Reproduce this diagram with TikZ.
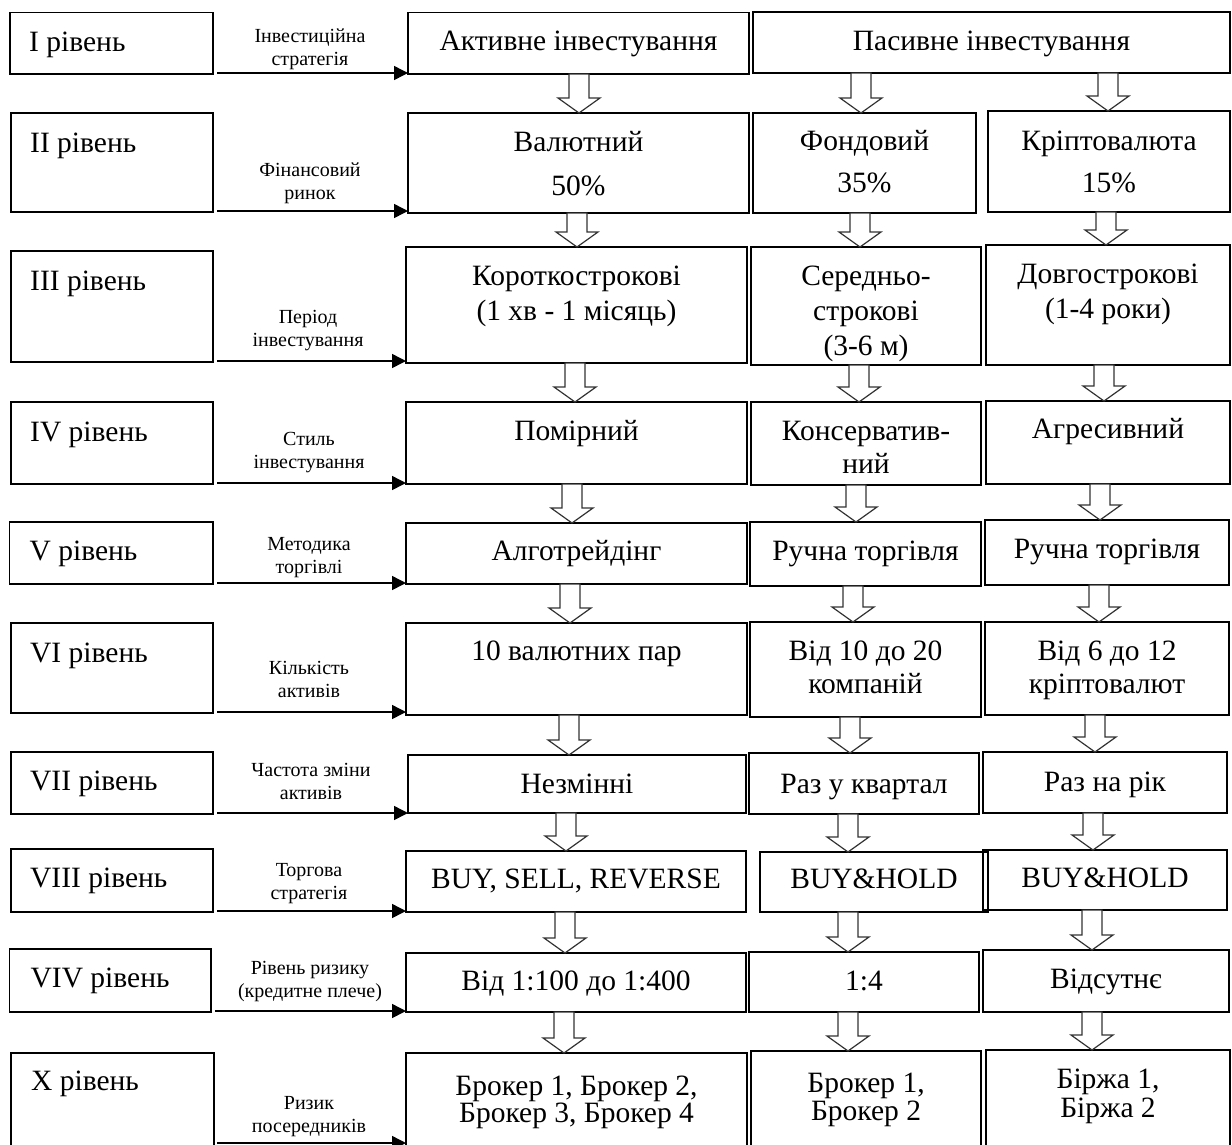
\documentclass[tikz,border=0pt]{standalone}
\usepackage{fontspec}
\setmainfont{Liberation Serif}
\usetikzlibrary{arrows.meta,calc}
\tikzset{
  box/.style={draw=black, line width=1.5pt, inner sep=0pt, outer sep=0pt, rectangle},
  rtext/.style={anchor=base, align=center, inner sep=0pt, font=\fontsize{29.5}{35}\selectfont},
  ltext/.style={anchor=base west, inner sep=0pt, font=\fontsize{29.5}{35}\selectfont},
  lab/.style={anchor=base, align=center, inner sep=0pt, font=\fontsize{20}{23}\selectfont},
  larrow/.style={line width=1.5pt, -{Triangle[length=14pt,width=14pt]}},
  barrow/.style={draw=black!80, line width=1.2pt, fill=white},
}
\newcommand\bx[5]{\node[box, anchor=north west, minimum width={#4pt-#2pt}, minimum height={#5pt-#3pt}] (#1) at (#2,#3) {};}
\newcommand\larr[3]{\coordinate (#1s) at ([xshift=4pt,yshift=1pt]#2.south east); \draw[larrow] (#1s) -- (#1s -| #3.west);}
\newcommand\barr[3]{\draw[barrow] let \p1=(#1.south), \p2=(#2.north) in
  (#3pt-10pt,\y1) -- (#3pt-10pt,\y2+15pt) -- (#3pt-21pt,\y2+15pt) -- (#3pt,\y2)
  -- (#3pt+21pt,\y2+15pt) -- (#3pt+10pt,\y2+15pt) -- (#3pt+10pt,\y1) -- cycle;}
\begin{document}
\begin{tikzpicture}[x=1pt,y=-1pt]
\useasboundingbox (0,0) rectangle (1232,1144);
\fill[white] (0,0) rectangle (1232,1144);
\clip (0,0) rectangle (1232,1144);

% left level boxes
\bx{L1}{10}{12.7}{213}{74}
\bx{L2}{11}{113}{213}{212}
\bx{L3}{11}{251}{213}{362}
\bx{L4}{11}{402}{213}{484}
\bx{L5}{9.5}{522}{213}{584}
\bx{L6}{11}{623}{213}{713}
\bx{L7}{11}{752}{213}{814}
\bx{L8}{11}{849}{213}{912}
\bx{L9}{9.5}{949}{211}{1012}
\bx{L10}{11}{1053}{214}{1150}

\node[ltext] (L1t) at ([xshift=19pt,yshift=-39pt]L1.north west) {I рівень};
\node[ltext] (L2t) at ([xshift=19pt,yshift=-39pt]L2.north west) {II рівень};
\node[ltext] (L3t) at ([xshift=19pt,yshift=-39pt]L3.north west) {III рівень};
\node[ltext] (L4t) at ([xshift=19pt,yshift=-39pt]L4.north west) {IV рівень};
\node[ltext] (L5t) at ([xshift=20pt,yshift=-38pt]L5.north west) {V рівень};
\node[ltext] (L6t) at ([xshift=19pt,yshift=-39pt]L6.north west) {VI рівень};
\node[ltext] (L7t) at ([xshift=19pt,yshift=-38pt]L7.north west) {VII рівень};
\node[ltext] (L8t) at ([xshift=19pt,yshift=-38pt]L8.north west) {VIII рівень};
\node[ltext] (L9t) at ([xshift=21pt,yshift=-38pt]L9.north west) {VIV рівень};
\node[ltext] (L10t) at ([xshift=20pt,yshift=-37pt]L10.north west) {X рівень};

% right boxes
\bx{A1}{408}{12.7}{749}{74}
\bx{P1}{753}{12}{1230}{73}
\bx{B1}{408}{113}{749}{213}
\bx{B2}{753}{113}{976}{213}
\bx{B3}{988}{111}{1230}{212}
\bx{C1}{406}{247}{747}{363}
\bx{C2}{751}{247}{981}{365}
\bx{C3}{986}{245}{1230}{365}
\bx{D1}{406}{402}{747}{484}
\bx{D2}{751}{402}{981}{485}
\bx{D3}{986}{401}{1230}{484}
\bx{E1}{406}{523}{747}{584}
\bx{E2}{750}{522}{981}{586}
\bx{E3}{985}{520}{1229}{585}
\bx{F1}{406}{623}{747}{715}
\bx{F2}{750}{622}{981}{717}
\bx{F3}{985}{622}{1229}{715}
\bx{G1}{408}{755}{746}{813}
\bx{G2}{749}{753}{979}{814}
\bx{G3}{983}{752}{1227}{813}
\bx{H1}{406}{851}{746}{912}
\bx{H2}{760}{852}{988}{912}
\bx{H3}{983}{850}{1227}{910}
\bx{I1}{406}{953}{746}{1012}
\bx{I2}{749}{952}{979}{1012}
\bx{I3}{983}{950}{1229}{1012}
\bx{J1}{406}{1053}{747}{1150}
\bx{J2}{751}{1051}{981}{1150}
\bx{J3}{986}{1050}{1230}{1150}

% texts of right boxes (multi-line nodes: base = last line)
\node[rtext] (A1t) at ([yshift=-38pt]A1.north) {Активне інвестування};
\node[rtext] (P1t) at ([yshift=-38pt]P1.north) {Пасивне інвестування};
\node[rtext, font=\fontsize{29.5}{44}\selectfont] (B1t) at ([yshift=-82pt]B1.north) {Валютний\\50\%};
\node[rtext, font=\fontsize{29.5}{42}\selectfont] (B2t) at ([yshift=-79pt]B2.north) {Фондовий\\35\%};
\node[rtext, font=\fontsize{29.5}{42}\selectfont] (B3t) at ([yshift=-81pt]B3.north) {Кріптовалюта\\15\%};
\node[rtext] (C1t) at ([yshift=-73pt]C1.north) {Короткострокові\\(1 хв - 1 місяць)};
\node[rtext] (C2t) at ([yshift=-108pt]C2.north) {Середньо-\\строкові\\(3-6 м)};
\node[rtext] (C3t) at ([yshift=-73pt]C3.north) {Довгострокові\\(1-4 роки)};
\node[rtext] (D1t) at ([yshift=-38pt]D1.north) {Помірний};
\node[rtext, font=\fontsize{29.5}{33}\selectfont] (D2t) at ([yshift=-71pt]D2.north) {Консерватив-\\ний};
\node[rtext] (D3t) at ([yshift=-37pt]D3.north) {Агресивний};
\node[rtext] (E1t) at ([yshift=-37pt]E1.north) {Алготрейдінг};
\node[rtext] (E2t) at ([yshift=-38pt]E2.north) {Ручна торгівля};
\node[rtext] (E3t) at ([yshift=-38pt]E3.north) {Ручна торгівля};
\node[rtext] (F1t) at ([yshift=-37pt]F1.north) {10 валютних пар};
\node[rtext, font=\fontsize{29.5}{33}\selectfont] (F2t) at ([yshift=-71pt]F2.north) {Від 10 до 20\\компаній};
\node[rtext, font=\fontsize{29.5}{33}\selectfont] (F3t) at ([yshift=-71pt]F3.north) {Від 6 до 12\\кріптовалют};
\node[rtext] (G1t) at ([yshift=-38pt]G1.north) {Незмінні};
\node[rtext] (G2t) at ([yshift=-40pt]G2.north) {Раз у квартал};
\node[rtext] (G3t) at ([yshift=-39pt]G3.north) {Раз на рік};
\node[rtext] (H1t) at ([yshift=-37pt]H1.north) {BUY, SELL, REVERSE};
\node[rtext] (H2t) at ([yshift=-36pt]H2.north) {BUY\&HOLD};
\node[rtext] (H3t) at ([yshift=-37pt]H3.north) {BUY\&HOLD};
\node[rtext] (I1t) at ([yshift=-37pt]I1.north) {Від 1:100 до 1:400};
\node[rtext] (I2t) at ([yshift=-38pt]I2.north) {1:4};
\node[rtext] (I3t) at ([yshift=-38pt]I3.north) {Відсутнє};
\node[rtext, font=\fontsize{29.5}{27}\selectfont] (J1t) at ([yshift=-69pt]J1.north) {Брокер 1, Брокер 2,\\Брокер 3, Брокер 4};
\node[rtext, font=\fontsize{29.5}{28}\selectfont] (J2t) at ([yshift=-69pt]J2.north) {Брокер 1,\\Брокер 2};
\node[rtext, font=\fontsize{29.5}{29}\selectfont] (J3t) at ([yshift=-67pt]J3.north) {Біржа 1,\\Біржа 2};

% left arrows
\larr{a1}{L1}{A1}
\larr{a2}{L2}{B1}
\larr{a3}{L3}{C1}
\larr{a4}{L4}{D1}
\larr{a5}{L5}{E1}
\larr{a6}{L6}{F1}
\larr{a7}{L7}{G1}
\larr{a8}{L8}{H1}
\larr{a9}{L9}{I1}
\coordinate (a10s) at (217,1143);
\draw[larrow] (a10s) -- (a10s -| J1.west);

% labels (anchor base = last line)
\node[lab] (m1) at (310,65) {Інвестиційна\\стратегія};
\node[lab] (m2) at (310,199) {Фінансовий\\ринок};
\node[lab] (m3) at (308,346) {Період\\інвестування};
\node[lab] (m4) at (309,468) {Стиль\\інвестування};
\node[lab] (m5) at (309,573) {Методика\\торгівлі};
\node[lab] (m6) at (309,697) {Кількість\\активів};
\node[lab] (m7) at (311,799) {Частота зміни\\активів};
\node[lab] (m8) at (309,899) {Торгова\\стратегія};
\node[lab] (m9) at (310,997) {Рівень ризику\\(кредитне плече)};
\node[lab] (m10) at (309,1132) {Ризик\\посередників};

% block arrows
\barr{A1}{B1}{579}
\barr{P1}{B2}{861}
\barr{P1}{B3}{1108}
\barr{B1}{C1}{577}
\barr{B2}{C2}{860}
\barr{B3}{C3}{1106}
\barr{C1}{D1}{575}
\barr{C2}{D2}{859}
\barr{C3}{D3}{1104}
\barr{D1}{E1}{572}
\barr{D2}{E2}{856}
\barr{D3}{E3}{1100}
\barr{E1}{F1}{570}
\barr{E2}{F2}{853}
\barr{E3}{F3}{1099}
\barr{F1}{G1}{569}
\barr{F2}{G2}{850}
\barr{F3}{G3}{1095}
\barr{G1}{H1}{566}
\barr{G2}{H2}{848}
\barr{G3}{H3}{1093}
\barr{H1}{I1}{565}
\barr{H2}{I2}{848}
\barr{H3}{I3}{1092}
\barr{I1}{J1}{564}
\barr{I2}{J2}{848}
\barr{I3}{J3}{1092}
\end{tikzpicture}
\end{document}
